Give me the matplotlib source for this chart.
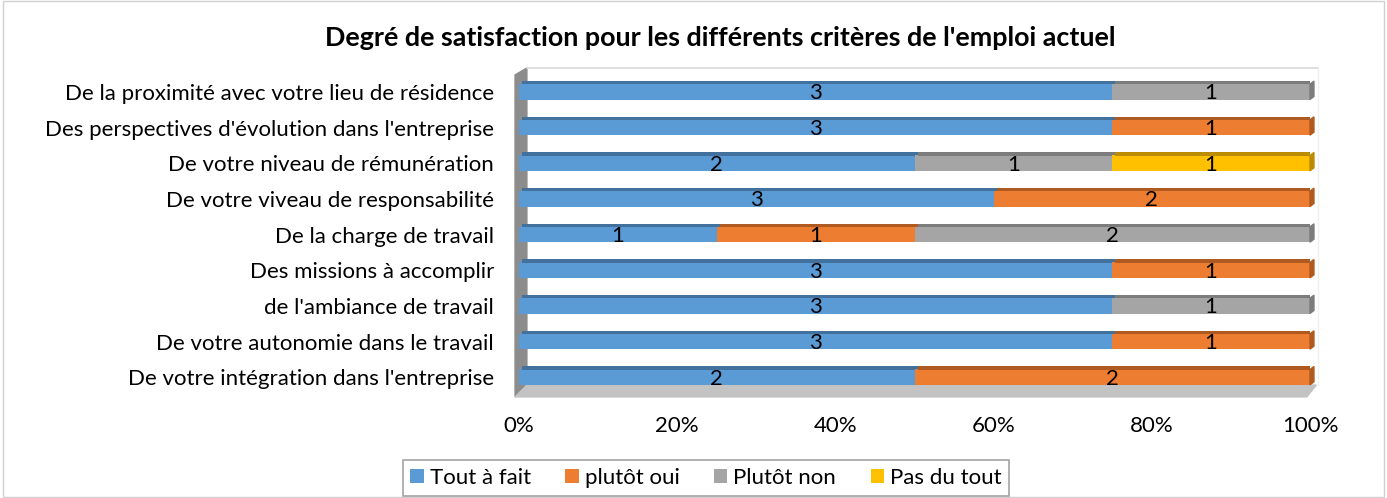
import matplotlib.pyplot as plt
import numpy as np
from matplotlib.patches import Polygon, Rectangle

plt.rcParams["font.family"] = ["Lato", "DejaVu Sans"]

# categories, listed from bottom to top
categories = [
    "De votre intégration dans l'entreprise",
    "De votre autonomie dans le travail",
    "de l'ambiance de travail",
    "Des missions à accomplir",
    "De la charge de travail",
    "De votre viveau de responsabilité",
    "De votre niveau de rémunération",
    "Des perspectives d'évolution dans l'entreprise",
    "De la proximité avec votre lieu de résidence",
]
series = ["Tout à fait", "plutôt oui", "Plutôt non", "Pas du tout"]
tout_a_fait = [2, 3, 3, 3, 1, 3, 2, 3, 3]
plutot_oui = [2, 1, 0, 1, 1, 2, 0, 1, 0]
plutot_non = [0, 0, 1, 0, 2, 0, 1, 0, 1]
pas_du_tout = [0, 0, 0, 0, 0, 0, 1, 0, 0]
xticks = [0, 20, 40, 60, 80, 100]

colors = ["#5B9BD5", "#ED7D31", "#A5A5A5", "#FFC000"]
dark = ["#41719C", "#AE5A21", "#7C7C7C", "#BC8C00"]

values = np.array([tout_a_fait, plutot_oui, plutot_non, pas_du_tout], dtype=float)
pct = values / values.sum(axis=0) * 100
y = np.arange(len(categories))

fig = plt.figure(figsize=(13.87, 4.98), dpi=100)
W, H = 1387, 498
ax = fig.add_axes([519 / W, 1 - 395 / H, 791 / W, 321 / H])

bh = 0.43
left = np.zeros(len(categories))
for i, name in enumerate(series):
    ax.barh(y, pct[i], left=left, height=bh, color=colors[i], label=name, zorder=3)
    # darker top strip for the 3D look
    ax.barh(y + bh / 2 + 0.042, pct[i], left=left + 0.4, height=0.085,
            color=dark[i], zorder=3)
    for j in range(len(categories)):
        if values[i, j] > 0:
            ax.text(left[j] + pct[i, j] / 2, y[j] - 0.04, f"{int(values[i, j])}",
                    ha="center", va="center", fontsize=16, color="black", zorder=4)
    left = left + pct[i]

# right end face of each bar
last = [max(k for k in range(4) if values[k, j] > 0) for j in range(len(categories))]
for j in range(len(categories)):
    ax.add_patch(Polygon([(100, y[j] - bh / 2), (100.5, y[j] - bh / 2 + 0.085),
                          (100.5, y[j] + bh / 2 + 0.085), (100, y[j] + bh / 2)],
                         closed=True, color=dark[last[j]], zorder=3, clip_on=False))

ax.set_xlim(0, 100)
ax.set_ylim(-0.5, 8.5)
ax.set_xticks(xticks)
ax.set_xticklabels([f"{t}%" for t in xticks], fontsize=16)
ax.set_yticks(y)
ax.set_yticklabels(categories, fontsize=16)
ax.tick_params(length=0)
ax.tick_params(axis="y", pad=18)
ax.tick_params(axis="x", pad=15)
for s in ax.spines.values():
    s.set_visible(False)

# pseudo 3D wall and floor
ax.add_patch(Polygon([(-0.005, -0.006), (-0.005, 0.997), (0.010, 1.019), (0.010, 0.031)],
                     closed=True, transform=ax.transAxes, color="#8C8C8C",
                     clip_on=False, zorder=1))
ax.add_patch(Polygon([(-0.005, -0.006), (0.996, -0.006), (1.008, 0.031), (0.010, 0.031)],
                     closed=True, transform=ax.transAxes, color="#C3C3C3",
                     clip_on=False, zorder=1))
ax.plot([0.010, 1.010], [1.019, 1.019], transform=ax.transAxes, color="#D9D9D9",
        lw=1.2, clip_on=False, zorder=1)
ax.plot([1.010, 1.010], [1.019, 0.031], transform=ax.transAxes, color="#F0F0F0",
        lw=1, clip_on=False, zorder=1)

fig.text(0.519, 1 - 38 / H, "Degré de satisfaction pour les différents critères de l'emploi actuel",
         ha="center", va="center", fontsize=19.4, fontweight="bold")

leg = fig.legend(loc="lower center", bbox_to_anchor=(0.509, 2 / H), ncol=4, fontsize=16,
                 frameon=True, fancybox=False, edgecolor="#8C8C8C",
                 handlelength=0.6, handleheight=0.6, columnspacing=1.55, handletextpad=0.27,
                 borderpad=0.35, borderaxespad=0.0)
leg.get_frame().set_linewidth(1.2)

fig.add_artist(Rectangle((0.002, 0.002), 0.996, 0.996, transform=fig.transFigure,
                         fill=False, edgecolor="#D0D0D0", lw=1))

fig.savefig("out.png", dpi=100)
